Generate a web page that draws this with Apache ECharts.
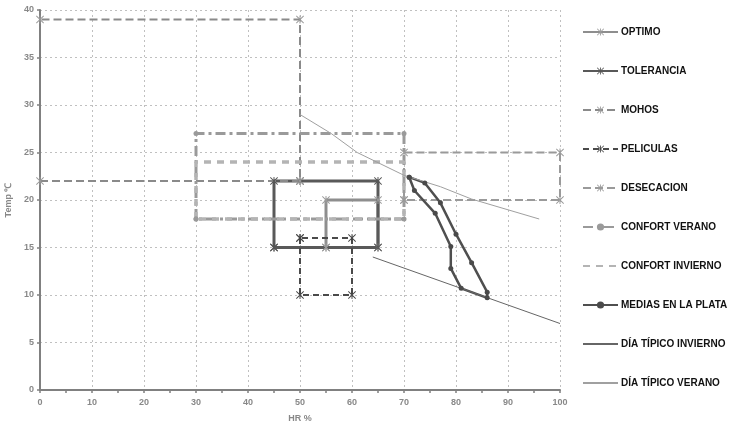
<!DOCTYPE html>
<html><head><meta charset="utf-8">
<script src="https://cdn.jsdelivr.net/npm/echarts@6/dist/echarts.min.js"></script>
<style>html,body{margin:0;padding:0;background:#fff}#c{width:733px;height:430px}</style>
</head><body><div id="c"></div>
<script>
// Data (HR %, Temp °C)
const optimoX = [55, 55, 65, 65, 55];
const optimoY = [15, 20, 20, 15, 15];
const toleranciaX = [45, 45, 50, 65, 65, 45];
const toleranciaY = [15, 22, 22, 22, 15, 15];
const mohosX = [0, 50, 50, 0];
const mohosY = [22, 22, 39, 39];
const peliculasX = [50, 50, 60, 60, 50];
const peliculasY = [16, 10, 10, 16, 16];
const desecacionX = [70, 70, 100, 100, 70];
const desecacionY = [20, 25, 25, 20, 20];
const verExtX = [30, 30, 70, 70, 30];
const verExtY = [18, 27, 27, 18, 18];
const invX = [30, 30, 70, 70, 30];
const invY = [18, 24, 24, 18, 18];
const mediasX = [71, 74, 77, 80, 83, 86, 86, 81, 79, 79, 76, 72, 71];
const mediasY = [22.4, 21.8, 19.7, 16.4, 13.4, 10.3, 9.7, 10.7, 12.8, 15.1, 18.6, 21.0, 22.4];
const diaInvX = [64, 100];
const diaInvY = [14, 7];
const diaVerX = [50, 56, 61, 70, 77, 83, 96];
const diaVerY = [29, 27, 25, 22.6, 21.4, 20.1, 18];
const xTicks = [0, 10, 20, 30, 40, 50, 60, 70, 80, 90, 100];
const yTicks = [0, 5, 10, 15, 20, 25, 30, 35, 40];

const pairs = (xs, ys) => xs.map((x, i) => [x, ys[i]]);
const star = 'path://M4.4,0H5.6V10H4.4Z M0,0.8L0.8,0L10,9.2L9.2,10Z M9.2,0L10,0.8L0.8,10L0,9.2Z';
const FONT = 'Liberation Sans, Arial, sans-serif';

function mk(name, xs, ys, color, width, type, symbol, size, mcolor) {
  return {
    name: name, type: 'line', data: pairs(xs, ys),
    symbol: symbol || 'none', symbolSize: size || 7, showSymbol: !!symbol,
    lineStyle: {color: color, width: width, type: type || 'solid'},
    itemStyle: {color: mcolor || color, borderWidth: 0},
    emphasis: {disabled: true}, animation: false
  };
}

const series = [
  mk('OPTIMO', optimoX, optimoY, '#8e8e8e', 3, 'solid', star, 8, '#9a9a9a'),
  mk('TOLERANCIA', toleranciaX, toleranciaY, '#595959', 3, 'solid', star, 8, '#555'),
  mk('MOHOS', mohosX, mohosY, '#8a8a8a', 2, [8, 4], star, 8, '#999'),
  mk('PELICULAS', peliculasX, peliculasY, '#4a4a4a', 2, [6, 4], star, 8, '#444'),
  mk('DESECACION', desecacionX, desecacionY, '#9a9a9a', 2, [8, 4], star, 8, '#999'),
  mk('CONFORT VERANO', verExtX, verExtY, '#9a9a9a', 3, [10, 4, 3, 4], 'circle', 5, '#9a9a9a'),
  mk('CONFORT INVIERNO', invX, invY, '#b4b4b4', 3.5, [7, 6]),
  mk('MEDIAS EN LA PLATA', mediasX, mediasY, '#4f4f4f', 2.5, 'solid', 'circle', 5, '#4a4a4a'),
  mk('DÍA TÍPICO INVIERNO', diaInvX, diaInvY, '#666', 1),
  mk('DÍA TÍPICO VERANO', diaVerX, diaVerY, '#a0a0a0', 1)
];

const legendData = series.map(s => s.showSymbol
  ? {name: s.name}
  : {name: s.name, itemStyle: {opacity: 0}});

const chart = echarts.init(document.getElementById('c'), null, {renderer: 'canvas'});
chart.setOption({
  animation: false,
  backgroundColor: '#fff',
  grid: {left: 40, right: 173, top: 10, bottom: 40, containLabel: false, outerBoundsMode: 'none'},
  legend: {
    orient: 'vertical', left: 577, top: 22, itemWidth: 35, itemHeight: 9, itemGap: 29,
    textStyle: {fontFamily: FONT, fontWeight: 'bold', fontSize: 10, color: '#111', padding: [0,0,0,-2]},
    data: legendData
  },
  xAxis: {
    type: 'value', min: 0, max: 100, interval: 10,
    name: 'HR %', nameLocation: 'middle', nameGap: 24,
    nameTextStyle: {fontFamily: FONT, fontWeight: 'bold', fontSize: 9, color: '#888'},
    axisLine: {show: true, onZero: false, lineStyle: {color: '#808080', width: 2}},
    axisTick: {show: true, length: 3, lineStyle: {color: '#808080', width: 1.5}},
    minorTick: {show: true, splitNumber: 2, length: 3, lineStyle: {color: '#808080', width: 1.5}},
    axisLabel: {fontFamily: FONT, fontWeight: 'bold', fontSize: 9, color: '#888', margin: 8,
      formatter: v => xTicks.includes(v) ? String(v) : ''},
    splitLine: {show: true, lineStyle: {color: '#c0c0c0', type: [2, 3], width: 1}}
  },
  yAxis: {
    type: 'value', min: 0, max: 40, interval: 5,
    name: 'Temp ℃', nameLocation: 'middle', nameGap: 21, nameRotate: 90,
    nameTextStyle: {fontFamily: FONT, fontWeight: 'bold', fontSize: 9, color: '#888'},
    axisLine: {show: true, onZero: false, lineStyle: {color: '#808080', width: 2}},
    axisTick: {show: true, length: 3, lineStyle: {color: '#808080', width: 1.5}},
    axisLabel: {fontFamily: FONT, fontWeight: 'bold', fontSize: 9, color: '#888', margin: 6,
      formatter: v => yTicks.includes(v) ? String(v) : ''},
    splitLine: {show: true, lineStyle: {color: '#c0c0c0', type: [2, 3], width: 1}}
  },
  series: series
});
</script></body></html>
